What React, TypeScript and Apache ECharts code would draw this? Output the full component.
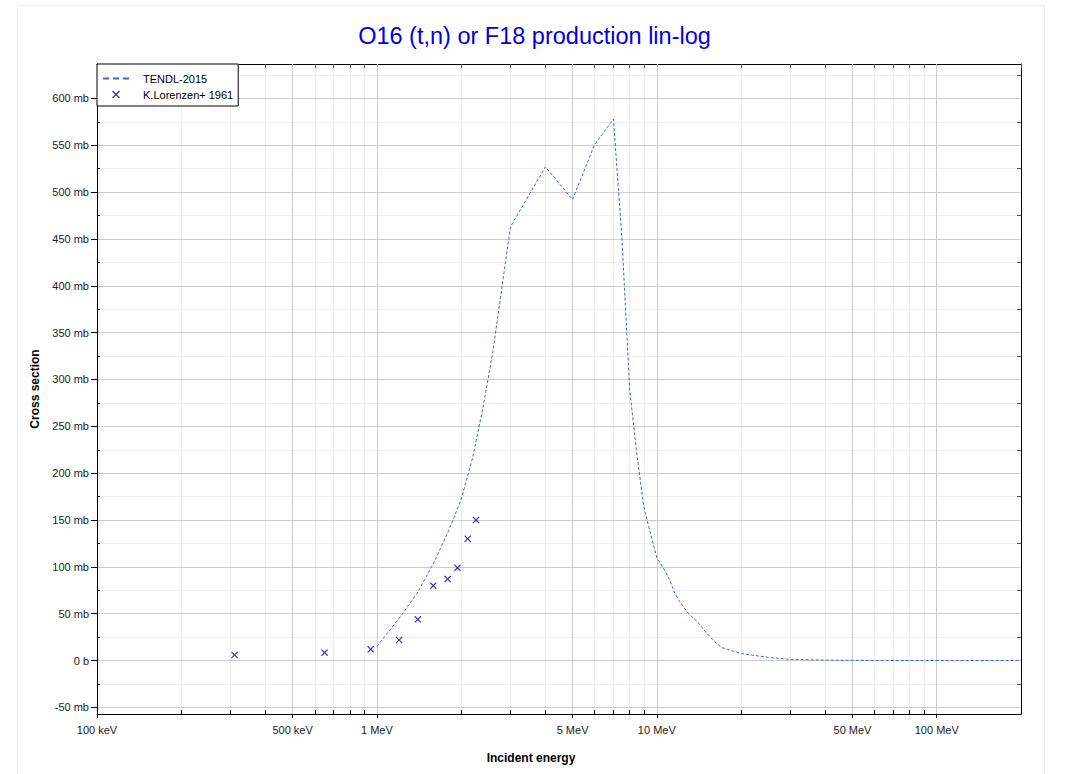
import React, { useEffect, useRef } from "react";
import * as echarts from "echarts";

// TENDL-2015 evaluated cross section (energy in MeV, cross section in mb)
const tendlEnergy = [1.0, 1.2, 1.4, 1.6, 1.8, 2.0, 2.2, 2.4, 2.6, 3.0, 4.0, 5.0, 6.0, 7.0, 7.5, 8.0, 8.5, 9.0, 9.5, 10.0, 10.5, 11.0, 11.6, 12.0, 13.0, 14.0, 15.0, 16.0, 17.0, 20.0, 25.0, 30.0, 40.0, 50.0, 100.0, 200.0];
const tendlXs = [15, 45, 73, 105, 138, 172, 217, 272, 331, 463, 527, 492, 551, 578, 452, 289, 218, 163, 135, 110, 100, 89, 72, 64, 50, 41, 30, 21, 14, 7.5, 3.5, 1.3, 0.5, 0.2, 0.05, 0];

// K.Lorenzen+ 1961 experimental points
const expEnergy = [0.31, 0.65, 0.95, 1.2, 1.4, 1.59, 1.79, 1.94, 2.11, 2.26];
const expXs = [6, 8.5, 12, 22, 44, 80, 87, 99, 130, 150];

// Axis ticks
const xLabelTicks = [0.1, 0.5, 1, 5, 10, 50, 100];
const xDecades = [0.1, 1, 10, 100];
const xMultipliers = [1, 2, 3, 4, 5, 6, 7, 8, 9];
const yLabelTicks = [-50, 0, 50, 100, 150, 200, 250, 300, 350, 400, 450, 500, 550, 600];
const yMinorStep = 25;

const X_MIN = 0.1;
const X_MAX = 200;
const Y_MIN = -57;
const Y_MAX = 636.7;

const FONT = "'Liberation Sans', Arial, sans-serif";
const CROSS = "path://M0,1.2L1.2,0L5,3.8L8.8,0L10,1.2L6.2,5L10,8.8L8.8,10L5,6.2L1.2,10L0,8.8L3.8,5Z";

const xAllTicks: number[] = [];
xDecades.forEach((d) =>
  xMultipliers.forEach((m) => {
    const v = parseFloat((d * m).toPrecision(6));
    if (v >= X_MIN && v <= X_MAX) xAllTicks.push(v);
  })
);
xAllTicks.push(200);

const yAllTicks: number[] = [];
for (let v = -50; v <= 625; v += yMinorStep) yAllTicks.push(v);

const fmtX = (v: number) => {
  const r = parseFloat(Number(v).toPrecision(6));
  return r < 1 ? `${Math.round(r * 1000)} keV` : `${Math.round(r)} MeV`;
};
const fmtY = (v: number) => (Math.round(v) === 0 ? "0 b" : `${Math.round(v)} mb`);

export default function App() {
  const ref = useRef<HTMLDivElement>(null);

  useEffect(() => {
    if (!ref.current) return;
    const chart = echarts.init(ref.current, null, { renderer: "svg" });

    const logAxisBase = {
      type: "log" as const,
      logBase: 10,
      min: X_MIN,
      max: X_MAX,
      gridIndex: 0,
    };
    const yBase = {
      type: "value" as const,
      min: Y_MIN,
      max: Y_MAX,
      gridIndex: 0,
    };

    const option: any = {
      animation: false,
      backgroundColor: "#fff",
      textStyle: { fontFamily: FONT },
      title: {
        text: "O16 (t,n) or F18 production lin-log",
        left: "center",
        top: 19,
        textStyle: { color: "#0000dd", fontSize: 23.5, fontWeight: "normal", fontFamily: FONT },
      },
      graphic: [
        {
          type: "rect",
          z: -10,
          silent: true,
          shape: { x: 17.5, y: 5.5, width: 1027, height: 800 },
          style: { fill: "none", stroke: "#eeeeee", lineWidth: 1 },
        },
      ],
      legend: {
        left: 97,
        top: 64,
        orient: "vertical",
        backgroundColor: "#fff",
        borderColor: "#000",
        borderWidth: 1,
        borderRadius: 0,
        padding: [9, 5, 6, 5],
        itemGap: 5,
        itemWidth: 26,
        itemHeight: 8,
        selectedMode: false,
        textStyle: { fontSize: 11, color: "#000", fontFamily: FONT, padding: [0, 0, 0, 9] },
        data: [
          { name: "TENDL-2015", itemStyle: { opacity: 0 }, lineStyle: { width: 2, type: [6, 4] } },
          { name: "K.Lorenzen+ 1961" },
        ],
      },
      grid: {
        left: 97,
        right: 48,
        top: 64,
        bottom: 60,
        containLabel: false,
        outerBoundsMode: "none",
      },
      xAxis: [
        {
          ...logAxisBase,
          position: "bottom",
          z: 1,
          name: "Incident energy",
          nameLocation: "middle",
          nameGap: 38,
          nameTextStyle: { fontSize: 12, fontWeight: "bold", color: "#000", fontFamily: FONT, padding: [0, 56, 0, 0] },
          axisLine: { show: true, onZero: false, lineStyle: { color: "#000", width: 1 } },
          axisTick: { show: true, inside: false, length: 4, customValues: xLabelTicks, lineStyle: { color: "#000" } },
          axisLabel: { show: true, customValues: xLabelTicks, formatter: fmtX, fontSize: 11, color: "#222", margin: 10, fontFamily: FONT },
          splitLine: { show: true, lineStyle: { color: "#cccccc", width: 1 } },
          minorTick: { show: false },
        },
        {
          ...logAxisBase,
          position: "bottom",
          z: 0,
          axisLine: { show: false, onZero: false },
          axisTick: { show: true, inside: true, length: 4, customValues: xAllTicks, lineStyle: { color: "#000" } },
          axisLabel: { show: false },
          splitLine: { show: true, lineStyle: { color: "#eeeeee", width: 1 } },
        },
        {
          ...logAxisBase,
          position: "top",
          z: 0,
          axisLine: { show: true, onZero: false, lineStyle: { color: "#000", width: 1 } },
          axisTick: { show: true, inside: true, length: 4, customValues: xAllTicks, lineStyle: { color: "#555" } },
          axisLabel: { show: false },
          splitLine: { show: false },
        },
      ],
      yAxis: [
        {
          ...yBase,
          position: "left",
          z: 1,
          name: "Cross section",
          nameLocation: "middle",
          nameGap: 55,
          nameRotate: 90,
          nameTextStyle: { fontSize: 12, fontWeight: "bold", color: "#000", fontFamily: FONT },
          axisLine: { show: true, onZero: false, lineStyle: { color: "#000", width: 1 } },
          axisTick: { show: true, inside: false, length: 6, customValues: yLabelTicks, lineStyle: { color: "#000" } },
          axisLabel: { show: true, customValues: yLabelTicks, formatter: fmtY, fontSize: 11, color: "#222", margin: 8, fontFamily: FONT },
          splitLine: { show: true, lineStyle: { color: "#cccccc", width: 1 } },
        },
        {
          ...yBase,
          position: "left",
          z: 0,
          axisLine: { show: false, onZero: false },
          axisTick: { show: true, inside: true, length: 3, customValues: yAllTicks, lineStyle: { color: "#000" } },
          axisLabel: { show: false },
          splitLine: { show: true, lineStyle: { color: "#eeeeee", width: 1 } },
        },
        {
          ...yBase,
          position: "right",
          z: 0,
          axisLine: { show: true, onZero: false, lineStyle: { color: "#000", width: 1 } },
          axisTick: { show: true, inside: true, length: 4, customValues: yAllTicks, lineStyle: { color: "#555" } },
          axisLabel: { show: false },
          splitLine: { show: false },
        },
      ],
      series: [
        {
          name: "TENDL-2015",
          type: "line",
          xAxisIndex: 0,
          yAxisIndex: 0,
          symbol: "none",
          showSymbol: false,
          z: 3,
          lineStyle: { color: "#3a66e0", width: 1, type: [3, 2] },
          itemStyle: { color: "#3a66e0" },
          data: tendlEnergy.map((e, i) => [e, tendlXs[i]]),
        },
        {
          name: "K.Lorenzen+ 1961",
          type: "scatter",
          xAxisIndex: 0,
          yAxisIndex: 0,
          symbol: CROSS,
          symbolSize: 7,
          z: 4,
          itemStyle: { color: "#0000c8" },
          data: expEnergy.map((e, i) => [e, expXs[i]]),
        },
      ],
    };

    chart.setOption(option);
    return () => chart.dispose();
  }, []);

  return (
    <div
      ref={ref}
      style={{ position: "absolute", left: 0, top: 0, width: 1069, height: 774 }}
    />
  );
}
